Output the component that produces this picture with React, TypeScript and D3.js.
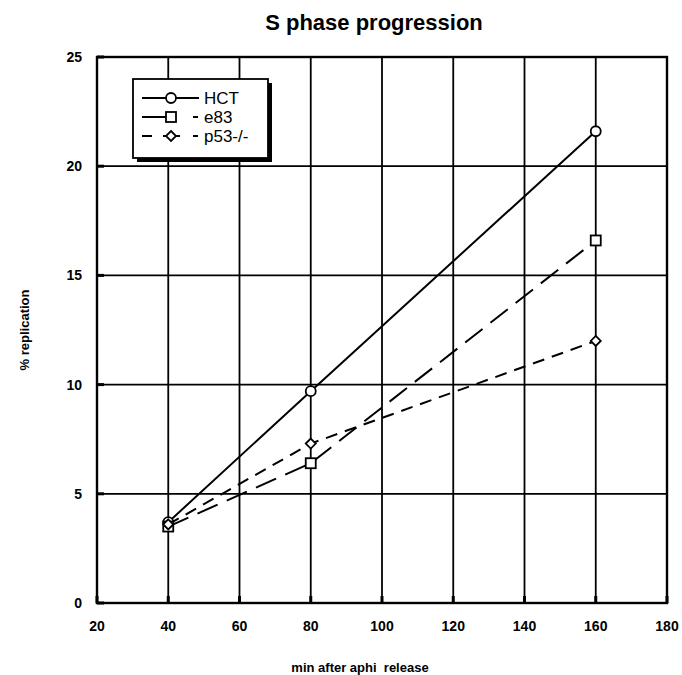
import React, { useEffect, useRef } from 'react'
import * as d3 from 'd3'

const WIDTH = 682
const HEIGHT = 675

const minutes = [40, 80, 160]
const hct = [3.7, 9.7, 21.6]
const e83 = [3.5, 6.4, 16.6]
const p53 = [3.6, 7.3, 12.0]

const xTicks = [20, 40, 60, 80, 100, 120, 140, 160, 180]
const yTicks = [0, 5, 10, 15, 20, 25]

const seriesNames = ['HCT', 'e83', 'p53-/-']

const FONT = 'Liberation Sans, Arial, sans-serif'

export default function App() {
  const ref = useRef<SVGSVGElement>(null)

  useEffect(() => {
    const svg = d3.select(ref.current)
    svg.selectAll('*').remove()

    const x = d3.scaleLinear().domain([20, 180]).range([97, 667])
    const y = d3.scaleLinear().domain([0, 25]).range([603, 57])

    svg.append('rect').attr('width', WIDTH).attr('height', HEIGHT).attr('fill', 'white')

    // grid
    const grid = svg.append('g').attr('stroke', '#000').attr('stroke-width', 1.8)
    grid.selectAll('line.v')
      .data(xTicks)
      .enter()
      .append('line')
      .attr('x1', (d) => x(d))
      .attr('x2', (d) => x(d))
      .attr('y1', y(0))
      .attr('y2', y(25))
    grid.selectAll('line.h')
      .data(yTicks)
      .enter()
      .append('line')
      .attr('x1', x(20))
      .attr('x2', x(180))
      .attr('y1', (d) => y(d))
      .attr('y2', (d) => y(d))

    svg.append('rect')
      .attr('x', x(20))
      .attr('y', y(25))
      .attr('width', x(180) - x(20))
      .attr('height', y(0) - y(25))
      .attr('fill', 'none')
      .attr('stroke', '#000')
      .attr('stroke-width', 2.4)

    // small tick stubs
    svg.append('g').selectAll('line')
      .data(yTicks)
      .enter()
      .append('line')
      .attr('x1', x(20))
      .attr('x2', x(20) + 7)
      .attr('y1', (d) => y(d))
      .attr('y2', (d) => y(d))
      .attr('stroke', '#000')
      .attr('stroke-width', 3)
    svg.append('g').selectAll('line')
      .data(xTicks)
      .enter()
      .append('line')
      .attr('x1', (d) => x(d))
      .attr('x2', (d) => x(d))
      .attr('y1', y(0))
      .attr('y2', y(0) - 7)
      .attr('stroke', '#000')
      .attr('stroke-width', 3)

    // tick labels
    svg.append('g').selectAll('text')
      .data(xTicks)
      .enter()
      .append('text')
      .attr('x', (d) => x(d))
      .attr('y', 631)
      .attr('text-anchor', 'middle')
      .attr('font-family', FONT)
      .attr('font-weight', 'bold')
      .attr('font-size', 14)
      .text((d) => d)
    svg.append('g').selectAll('text')
      .data(yTicks)
      .enter()
      .append('text')
      .attr('x', 82)
      .attr('y', (d) => y(d) + 5)
      .attr('text-anchor', 'end')
      .attr('font-family', FONT)
      .attr('font-weight', 'bold')
      .attr('font-size', 14)
      .text((d) => d)

    // titles
    svg.append('text')
      .attr('x', 374)
      .attr('y', 30)
      .attr('text-anchor', 'middle')
      .attr('font-family', FONT)
      .attr('font-weight', 'bold')
      .attr('font-size', 22)
      .text('S phase progression')
    svg.append('text')
      .attr('x', 360)
      .attr('y', 672)
      .attr('text-anchor', 'middle')
      .attr('font-family', FONT)
      .attr('font-weight', 'bold')
      .attr('font-size', 13)
      .style('white-space', 'pre')
      .text('min after aphi  release')
    svg.append('text')
      .attr('transform', `translate(29, 330) rotate(-90)`)
      .attr('text-anchor', 'middle')
      .attr('font-family', FONT)
      .attr('font-weight', 'bold')
      .attr('font-size', 13)
      .text('% replication')

    const series = [
      { name: seriesNames[0], values: hct, dash: null, legendDash: null, marker: 'circle' },
      { name: seriesNames[1], values: e83, dash: '22,10', legendDash: '24,27,5,100', marker: 'square' },
      { name: seriesNames[2], values: p53, dash: '12,8', legendDash: '10,11,17,13,5,100', marker: 'diamond' },
    ]

    const line = d3.line<number>()
      .x((d, i) => x(minutes[i]))
      .y((d) => y(d))

    const drawMarker = (g, kind, cx, cy) => {
      if (kind === 'circle') {
        g.append('circle').attr('cx', cx).attr('cy', cy).attr('r', 5)
          .attr('fill', 'white').attr('stroke', '#000').attr('stroke-width', 1.8)
      } else if (kind === 'square') {
        g.append('rect').attr('x', cx - 5).attr('y', cy - 5).attr('width', 10).attr('height', 10)
          .attr('fill', 'white').attr('stroke', '#000').attr('stroke-width', 1.8)
      } else {
        g.append('path').attr('d', `M${cx},${cy - 5}L${cx + 5},${cy}L${cx},${cy + 5}L${cx - 5},${cy}Z`)
          .attr('fill', 'white').attr('stroke', '#000').attr('stroke-width', 1.8)
      }
    }

    const lines = svg.append('g')
    series.forEach((s) => {
      lines.append('path')
        .attr('d', line(s.values))
        .attr('fill', 'none')
        .attr('stroke', '#000')
        .attr('stroke-width', 2)
        .attr('stroke-dasharray', s.dash)
    })
    series.forEach((s) => {
      s.values.forEach((v, i) => drawMarker(lines, s.marker, x(minutes[i]), y(v)))
    })

    // legend
    const legend = svg.append('g').attr('transform', 'translate(133, 79)')
    legend.append('rect').attr('x', 4).attr('y', 4).attr('width', 135).attr('height', 79).attr('fill', '#000')
    legend.append('rect').attr('width', 135).attr('height', 79)
      .attr('fill', 'white').attr('stroke', '#000').attr('stroke-width', 1.8)
    series.forEach((s, i) => {
      const ly = 19 + i * 19
      legend.append('line')
        .attr('x1', 9).attr('x2', 66)
        .attr('y1', ly).attr('y2', ly)
        .attr('stroke', '#000')
        .attr('stroke-width', 1.8)
        .attr('stroke-dasharray', s.legendDash)
      drawMarker(legend, s.marker, 38, ly)
      legend.append('text')
        .attr('x', 71)
        .attr('y', ly + 6)
        .attr('font-family', FONT)
        .attr('font-size', 17)
        .text(s.name)
    })
  }, [])

  return (
    <svg ref={ref} width={WIDTH} height={HEIGHT} style={{ position: 'absolute', left: 0, top: 0 }}></svg>
  )
}
